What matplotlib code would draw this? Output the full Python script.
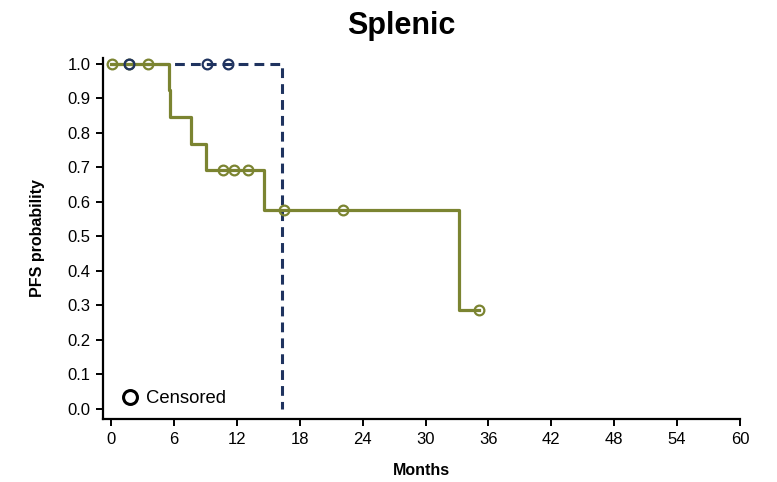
import numpy as np
import matplotlib.pyplot as plt
from matplotlib.lines import Line2D

plt.rcParams['font.family'] = ['Liberation Sans', 'DejaVu Sans']

# curva olivo (pasos de Kaplan-Meier)
t_olivo = [0, 5.5, 5.6, 7.6, 9.1, 14.6, 33.2, 35.1]
s_olivo = [1.0, 0.923, 0.846, 0.769, 0.692, 0.577, 0.288, 0.288]
cens_t_olivo = [0.1, 1.7, 3.5, 10.7, 11.7, 13.1, 16.5, 22.1, 35.1]
cens_s_olivo = [1.0, 1.0, 1.0, 0.692, 0.692, 0.692, 0.577, 0.577, 0.288]

# curva azul
t_azul = [0, 16.3, 16.3]
s_azul = [1.0, 1.0, 0.0]
cens_t_azul = [1.7, 9.2, 11.2]
cens_s_azul = [1.0, 1.0, 1.0]

x_ticks = np.arange(0, 61, 6)
y_ticks = np.arange(0, 1.01, 0.1)

olivo = '#7b8431'
azul = '#1f335f'

fig = plt.figure(figsize=(7.77, 4.82), dpi=100)
ax = fig.add_axes([0.1326, 0.1307, 0.8198, 0.749])

ax.step(t_olivo, s_olivo, where='post', color=olivo, lw=2.3, zorder=3)
ax.plot(t_azul, s_azul, color=azul, lw=2.2, ls=(0, (3.2, 2.0)), zorder=2)

ax.plot(cens_t_olivo, cens_s_olivo, 'o', ms=7, mfc='none', mec=olivo, mew=1.6, zorder=4)
ax.plot(cens_t_azul, cens_s_azul, 'o', ms=7, mfc='none', mec=azul, mew=1.6, zorder=4)

ax.set_xlim(-0.76, 60)
ax.set_ylim(-0.029, 1.017)
ax.set_xticks(x_ticks)
ax.set_yticks(y_ticks)
ax.set_yticklabels([f'{v:.1f}' for v in y_ticks])
ax.tick_params(labelsize=12, length=5, width=1.4, pad=4)

for s in ['top', 'right']:
    ax.spines[s].set_visible(False)
for s in ['left', 'bottom']:
    ax.spines[s].set_linewidth(1.6)

fig.suptitle('Splenic', x=0.516, y=0.978, va='top', fontsize=22, fontweight='bold')
ax.set_xlabel('Months', fontsize=11.5, fontweight='bold', labelpad=12)
ax.set_ylabel('PFS probability', fontsize=11.5, fontweight='bold', labelpad=16)

leyenda = [Line2D([], [], marker='o', ls='none', ms=10, mfc='none', mec='black', mew=2.2, label='Censored')]
ax.legend(handles=leyenda, loc='lower left', frameon=False, fontsize=13.3,
          handlelength=1.0, handletextpad=0.4, bbox_to_anchor=(0.001, -0.014))

fig.savefig('out.png', dpi=100)
